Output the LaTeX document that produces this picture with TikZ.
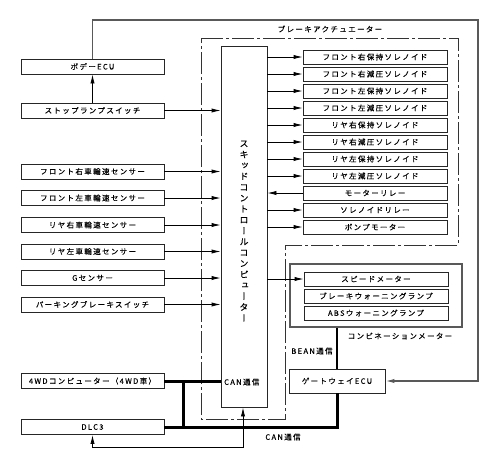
\documentclass[tikz,border=0pt]{standalone}
\usepackage{fontspec}
\setmainfont{Noto Sans CJK JP}[LetterSpace=18,FakeBold=0.2]
\newfontfamily\cjkvert[RawFeature=+vert,FakeBold=0.2]{Noto Sans CJK JP}
\usetikzlibrary{arrows.meta,calc}
\newcommand\jpf{\fontsize{7.5}{9}\selectfont}
\tikzset{
  lbox/.style={draw=black!85, line width=0.8pt, fill=white, minimum width=143pt, minimum height=15pt, inner sep=0pt, font=\jpf},
  rbox/.style={draw=black!85, line width=0.8pt, fill=white, minimum width=144pt, minimum height=14pt, inner sep=0pt, font=\jpf},
  lbl/.style={inner sep=0pt, font=\jpf},
  arr/.style={-{Latex[length=9pt,width=4.2pt]}, line width=0.8pt},
  dblarr/.style={{Latex[length=9pt,width=4.2pt]}-{Latex[length=9pt,width=4.2pt]}, line width=0.8pt},
  outerln/.style={draw=black!65, line width=1.3pt},
  bus/.style={line width=3pt},
  dashdot/.style={draw=black!80, line width=0.9pt, dash pattern=on 22pt off 3pt on 3pt off 3pt},
}
\begin{document}
\begin{tikzpicture}[x=1pt,y=-1pt]
\useasboundingbox (0,0) rectangle (496,461);

% dash-dot brake actuator boundary
\draw[dashdot] (201,38) -- (458,38) -- (458,245) -- (285,245) -- (285,419) -- (201,419) -- cycle;
\node[lbl] (actlabel) at (330,29) {ブレーキアクチュエーター};

% skid control computer
\node[draw=black!85, line width=0.8pt, minimum width=46pt, minimum height=361pt, inner sep=0pt] (skid) at (244,226.5) {};
\node[inner sep=0pt, align=center, font={\cjkvert\fontsize{9}{10.9}\selectfont}] (skidtxt) at (244,231)
  {ス\\キ\\ッ\\ド\\コ\\ン\\ト\\ロ\\ー\\ル\\コ\\ン\\ピ\\ュ\\ー\\タ\\ー};
\node[lbl, anchor=west] (skidcan) at (224,382) {CAN通信};

% left column
\node[lbox] (body) at (92.5,66.5) {ボデーECU};
\node[lbox] (stop) at (92.5,110.5) {ストップランプスイッチ};
\node[lbox] (fr) at (92.5,171.5) {フロント右車輪速センサー};
\node[lbox] (fl) at (92.5,198) {フロント左車輪速センサー};
\node[lbox] (rr) at (92.5,225) {リヤ右車輪速センサー};
\node[lbox] (rl) at (92.5,251.5) {リヤ左車輪速センサー};
\node[lbox] (gs) at (92.5,278) {Gセンサー};
\node[lbox] (pk) at (92.5,304.5) {パーキングブレーキスイッチ};
\node[lbox] (wd) at (92.5,381) {4WDコンピューター（4WD車）};
\node[lbox] (dlc) at (92.5,427) {DLC3};

% right column (actuator)
\node[rbox] (s1) at (375,57) {フロント右保持ソレノイド};
\node[rbox] (s2) at (375,74) {フロント右減圧ソレノイド};
\node[rbox] (s3) at (375,91) {フロント左保持ソレノイド};
\node[rbox] (s4) at (375,108) {フロント左減圧ソレノイド};
\node[rbox] (s5) at (375,125) {リヤ右保持ソレノイド};
\node[rbox] (s6) at (375,142) {リヤ右減圧ソレノイド};
\node[rbox] (s7) at (375,159) {リヤ左保持ソレノイド};
\node[rbox] (s8) at (375,176) {リヤ左減圧ソレノイド};
\node[rbox] (mr) at (375,193) {モーターリレー};
\node[rbox] (sr) at (375,210) {ソレノイドリレー};
\node[rbox] (pm) at (375,227) {ポンプモーター};

% combination meter
\node[draw=black!65, line width=1.2pt, minimum width=172pt, minimum height=63pt, inner sep=0pt] (cmb) at (376,295.5) {};
\node[rbox] (sp) at (376,279) {スピードメーター};
\node[rbox] (bw) at (376,296) {ブレーキウォーニングランプ};
\node[rbox] (ab) at (376,313) {ABSウォーニングランプ};
\node[lbl] (cmblabel) at (400,336) {コンビネーションメーター};

% gateway
\node[draw=black!85, line width=0.8pt, minimum width=96pt, minimum height=24pt, inner sep=0pt, font=\jpf] (gw) at (337,381) {ゲートウェイECU};
\node[lbl] (bean) at (312,351) {BEAN通信};
\node[lbl] (canlabel) at (283,437) {CAN通信};

% arrows: left inputs
\draw[arr] (stop.north) -- (body.south);
\foreach \n in {stop,fr,fl,rr,rl,gs,pk}
  \draw[arr] (\n.east) -- (skid.west |- \n.east);

% arrows: right outputs
\foreach \n in {s1,s2,s3,s4,s5,s6,s7,s8,sr,pm,sp}
  \draw[arr] (skid.east |- \n.west) -- (\n.west);
\draw[arr] (mr.west) -- (skid.east |- mr.west);

% body ECU to gateway
\coordinate (bturn) at (478,20);
\draw[outerln, arr, line width=1.3pt] (body.north) |- (bturn) |- (gw.east);

% BEAN
\draw[line width=2pt] (gw.north) -- (gw.north |- cmb.south);

% CAN bus
\coordinate (jt) at (183,381);
\coordinate (jb) at (183,427);
\draw[bus] (wd.east) -- (skid.west |- wd.east);
\draw[bus] (dlc.east) -| (gw.south);
\draw[bus] (jt) -- (jb);

% DLC3 link
\coordinate (dturn) at (243,447);
\draw[dblarr] (dlc.south) |- (dturn) -- (dturn |- skid.south);
\end{tikzpicture}
\end{document}
